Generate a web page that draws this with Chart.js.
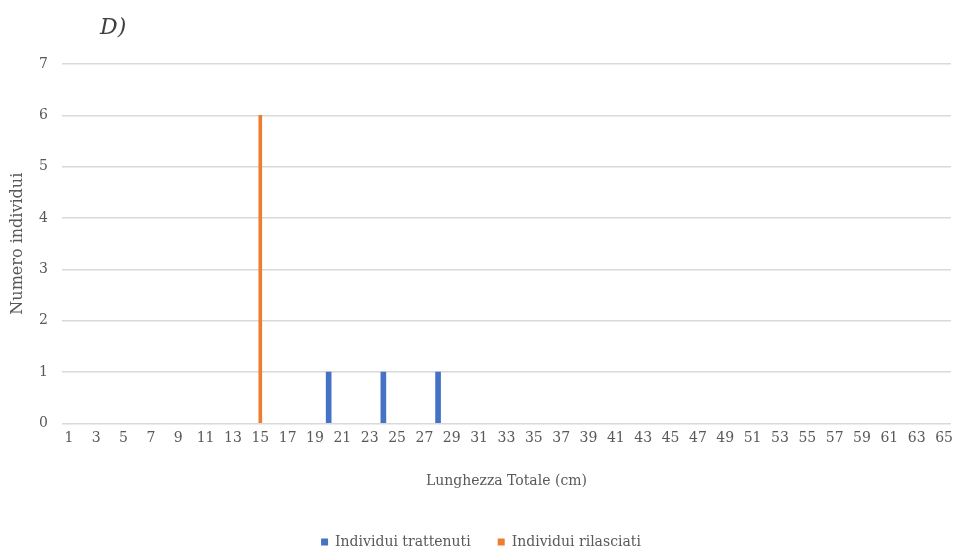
<!DOCTYPE html>
<html>
<head>
<meta charset="utf-8">
<script src="https://cdn.jsdelivr.net/npm/chart.js@4"></script>
<style>
html,body{margin:0;padding:0;background:#fff;}
#wrap{width:960px;height:554px;position:relative;}
</style>
</head>
<body>
<div id="wrap"><canvas id="c" width="960" height="554"></canvas></div>
<script>
const categories = ['1','2','3','4','5','6','7','8','9','10','11','12','13','14','15','16','17','18','19','20','21','22','23','24','25','26','27','28','29','30','31','32','33','34','35','36','37','38','39','40','41','42','43','44','45','46','47','48','49','50','51','52','53','54','55','56','57','58','59','60','61','62','63','64','65'];
const lengthsTrattenuti = ['20','24','28'];
const countsTrattenuti = [1,1,1];
const lengthsRilasciati = ['15'];
const countsRilasciati = [6];
const yTicks = [0,1,2,3,4,5,6,7];
const panelLabel = 'D)';

const serif = '"DejaVu Serif", "Liberation Serif", serif';
const txt = '#595959';

const panelTitle = {
  id: 'panelTitle',
  afterDraw(chart) {
    const ctx = chart.ctx;
    ctx.save();
    ctx.font = 'italic 22px ' + serif;
    ctx.fillStyle = '#404040';
    ctx.textBaseline = 'middle';
    ctx.textAlign = 'left';
    ctx.fillText(panelLabel, 100, 28);
    ctx.restore();
  }
};

new Chart(document.getElementById('c'), {
  type: 'bar',
  data: {
    labels: categories,
    datasets: [
      {
        label: 'Individui trattenuti',
        data: lengthsTrattenuti.map((x, i) => ({x: x, y: countsTrattenuti[i]})),
        backgroundColor: '#4472C4',
        barThickness: 5
      },
      {
        label: 'Individui rilasciati',
        data: lengthsRilasciati.map((x, i) => ({x: x, y: countsRilasciati[i]})),
        backgroundColor: '#ED7D31',
        barThickness: 3
      }
    ]
  },
  plugins: [panelTitle],
  options: {
    responsive: false,
    animation: false,
    grouped: false,
    layout: {padding: {top: 64, right: 6, left: 8, bottom: -5}},
    plugins: {
      legend: {
        position: 'bottom',
        labels: {
          font: {family: serif, size: 14},
          color: txt,
          boxWidth: 7,
          boxHeight: 7,
          padding: 27
        }
      },
      title: {display: false},
      tooltip: {enabled: false}
    },
    scales: {
      x: {
        type: 'category',
        grid: {display: false, drawTicks: false},
        border: {display: false},
        ticks: {
          autoSkip: false,
          maxRotation: 0,
          minRotation: 0,
          padding: 7,
          color: txt,
          font: {family: serif, size: 14},
          callback: function(v, i) { return i % 2 === 0 ? this.getLabelForValue(v) : ''; }
        },
        title: {
          display: true,
          text: 'Lunghezza Totale (cm)',
          color: txt,
          font: {family: serif, size: 14},
          padding: {top: 19, bottom: 18}
        }
      },
      y: {
        min: 0,
        max: 7,
        afterBuildTicks: (axis) => { axis.ticks = yTicks.map(v => ({value: v})); },
        afterFit: (axis) => { axis.width = 54; },
        grid: {color: '#d9d9d9', lineWidth: 1.5, drawTicks: false},
        border: {display: false},
        ticks: {
          padding: 14,
          color: txt,
          font: {family: serif, size: 14}
        },
        title: {
          display: true,
          text: 'Numero individui',
          color: txt,
          font: {family: serif, size: 16},
          padding: {top: 0, bottom: 10}
        }
      }
    }
  }
});
</script>
</body>
</html>
